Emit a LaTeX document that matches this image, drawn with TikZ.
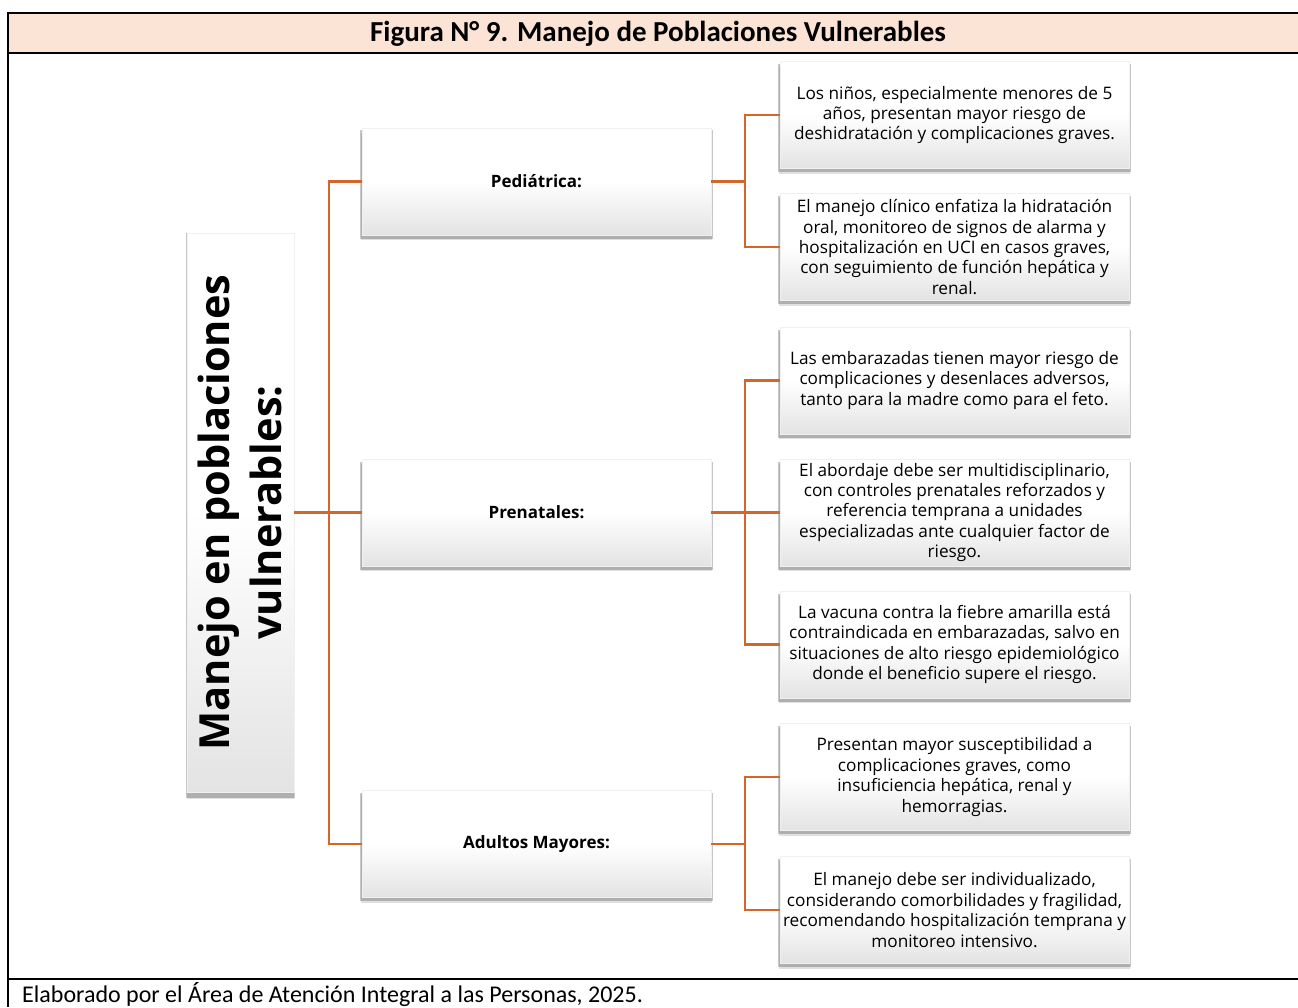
\documentclass[tikz,border=0pt]{standalone}
\usepackage{fontspec}
\setmainfont{Carlito}
\newfontfamily\bodyfont{Open Sans}
\usetikzlibrary{shadows}
\definecolor{conn}{RGB}{211,102,42}
\definecolor{peach}{RGB}{251,228,213}
\tikzset{
  boxbase/.style={draw=black!6, line width=0.5pt, top color=white, bottom color=black!11, middle color=white,
    drop shadow={shadow xshift=0pt, shadow yshift=-5pt, shadow scale=1.006, opacity=0.12, fill=black},
    drop shadow={shadow xshift=0pt, shadow yshift=-3pt, shadow scale=1.01, opacity=0.22, fill=black},
    align=center, inner sep=2pt},
  leaf/.style={boxbase, minimum width=349pt, minimum height=107pt,
    font=\bodyfont\fontsize{17.2}{20.4}\selectfont},
  mid/.style={boxbase, minimum width=349pt, minimum height=107pt,
    font=\bodyfont\bfseries\fontsize{17}{20}\selectfont},
  conn/.style={draw=conn, line width=2.2pt},
  frame/.style={draw=black, line width=1.8pt}
}
\begin{document}
\begin{tikzpicture}[x=1pt,y=-1pt]
\useasboundingbox (0,0) rectangle (1298,1007);
% frame and title
\fill[peach] (8,13) rectangle (1298,53);
\draw[frame] (1298,13) -- (8,13) -- (8,1007);
\draw[frame] (8,53) -- (1298,53);
\draw[frame] (8,979) -- (1298,979);
\node[font=\bfseries\fontsize{29}{32}\selectfont] (title) at (658,34) {Figura N° 9. Manejo de Poblaciones Vulnerables};
\node[anchor=base west, font=\fontsize{24}{26}\selectfont, inner sep=0pt] (foot) at (22,1002) {Elaborado por el Área de Atención Integral a las Personas, 2025.};
% root
\node[boxbase, minimum width=107pt, minimum height=559pt] (root) at (240.5,512.5) {};
\node[rotate=90, align=center, font=\bodyfont\bfseries\fontsize{41.5}{52}\selectfont, inner sep=0pt] (roottext) at (root.center) {Manejo en poblaciones\\vulnerables:};
% mids
\node[mid] (m1) at (536.5,181.5) {Pediátrica:};
\node[mid] (m2) at (536.5,512.5) {Prenatales:};
\node[mid] (m3) at (536.5,844) {Adultos Mayores:};
% leaves
\node[leaf] (l11) at (954.5,115) {Los niños, especialmente menores de 5\\años, presentan mayor riesgo de\\deshidratación y complicaciones graves.};
\node[leaf] (l12) at (954.5,247) {El manejo clínico enfatiza la hidratación\\oral, monitoreo de signos de alarma y\\hospitalización en UCI en casos graves,\\con seguimiento de función hepática y\\renal.};
\node[leaf] (l21) at (954.5,380.5) {Las embarazadas tienen mayor riesgo de\\complicaciones y desenlaces adversos,\\tanto para la madre como para el feto.};
\node[leaf] (l22) at (954.5,512.5) {El abordaje debe ser multidisciplinario,\\con controles prenatales reforzados y\\referencia temprana a unidades\\especializadas ante cualquier factor de\\riesgo.};
\node[leaf] (l23) at (954.5,644.5) {La vacuna contra la fiebre amarilla está\\contraindicada en embarazadas, salvo en\\situaciones de alto riesgo epidemiológico\\donde el beneficio supere el riesgo.};
\node[leaf] (l31) at (954.5,777) {Presentan mayor susceptibilidad a\\complicaciones graves, como\\insuficiencia hepática, renal y\\hemorragias.};
\node[leaf] (l32) at (954.5,910) {El manejo debe ser individualizado,\\considerando comorbilidades y fragilidad,\\recomendando hospitalización temprana y\\monitoreo intensivo.};
% connectors
\draw[conn] (root.east) -- ++(35,0) |- (m1.west);
\draw[conn] (root.east) -- ++(35,0) |- (m2.west);
\draw[conn] (root.east) -- ++(35,0) |- (m3.west);
\draw[conn] (m1.east) -- ++(34,0) |- (l11.west);
\draw[conn] (m1.east) -- ++(34,0) |- (l12.west);
\draw[conn] (m2.east) -- ++(34,0) |- (l21.west);
\draw[conn] (m2.east) -- (l22.west);
\draw[conn] (m2.east) -- ++(34,0) |- (l23.west);
\draw[conn] (m3.east) -- ++(34,0) |- (l31.west);
\draw[conn] (m3.east) -- ++(34,0) |- (l32.west);
\end{tikzpicture}
\end{document}
